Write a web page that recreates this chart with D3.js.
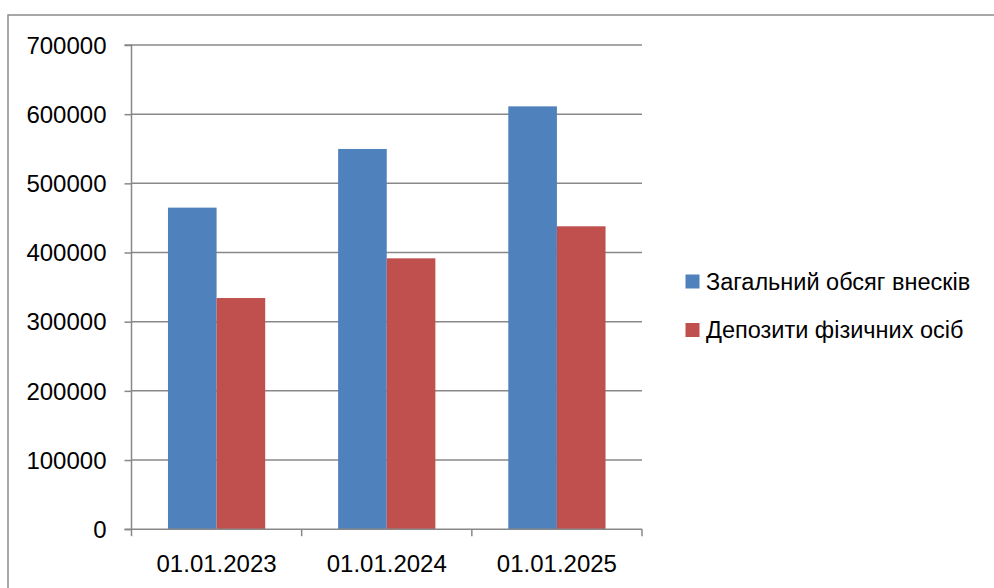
<!DOCTYPE html>
<html>
<head>
<meta charset="utf-8">
<script src="https://cdn.jsdelivr.net/npm/d3@7"></script>
<style>
  html, body { margin: 0; padding: 0; background: #fff; }
  svg { display: block; }
</style>
</head>
<body>
<svg id="chart" width="994" height="588"></svg>
<script>
const categories = ["01.01.2023", "01.01.2024", "01.01.2025"];
const seriesNames = ["Загальний обсяг внесків", "Депозити фізичних осіб"];
const totalContributions = [464900, 549700, 611300];
const individualDeposits = [334200, 391600, 437900];
const yTicks = [0, 100000, 200000, 300000, 400000, 500000, 600000, 700000];
const colors = ["#4F81BD", "#C0504D"];

(function () {
const seriesValues = [totalContributions, individualDeposits];
const svg = d3.select("#chart");
const font = "'Liberation Sans', Arial, sans-serif";

// outer frame
svg.append("rect").attr("x", 8).attr("y", 15).attr("width", 1000).attr("height", 600)
  .attr("fill", "none").attr("stroke", "#8a8a8a").attr("stroke-width", 1.5);

const pLeft = 131.5, pRight = 642, pTop = 45, pBottom = 529.2;

const x = d3.scaleBand().domain(categories).range([pLeft, pRight]).paddingInner(0).paddingOuter(0);
const barW = x.bandwidth() / 3.5; // gap width 150%
const y = d3.scaleLinear().domain([0, 700000]).range([pBottom, pTop]);

// gridlines
svg.append("g").selectAll("line").data(yTicks.filter(d => d > 0)).join("line")
  .attr("x1", pLeft).attr("x2", pRight)
  .attr("y1", d => y(d)).attr("y2", d => y(d))
  .attr("stroke", "#888").attr("stroke-width", 1.5);

// bars
seriesValues.forEach((vals, si) => {
  svg.append("g").selectAll("rect").data(vals).join("rect")
    .attr("x", (d, i) => x(categories[i]) + x.bandwidth() / 2 - barW + si * barW)
    .attr("y", d => y(d))
    .attr("width", barW)
    .attr("height", d => y(0) - y(d))
    .attr("fill", colors[si]);
});

// y axis
const yAxis = d3.axisLeft(y).tickValues(yTicks).tickFormat(d3.format("d")).tickSize(7).tickPadding(18);
const gy = svg.append("g").attr("transform", `translate(${pLeft},0)`).call(yAxis);
gy.select(".domain").attr("stroke", "#888").attr("stroke-width", 1.5).attr("d", `M-7,${pTop}H0V${pBottom}`);
gy.selectAll(".tick line").attr("stroke", "#888").attr("stroke-width", 1.5);
gy.selectAll(".tick text").attr("font-family", font).attr("font-size", 24).attr("fill", "#000").attr("dy", "0.34em");

// x axis
const xAxis = d3.axisBottom(x).tickSize(0).tickPadding(26);
const gx = svg.append("g").attr("transform", `translate(0,${pBottom})`).call(xAxis);
gx.select(".domain").attr("stroke", "#888").attr("stroke-width", 1.5).attr("d", `M${pLeft - 7},0H${pRight}`);
gx.selectAll(".tick text").attr("font-family", font).attr("font-size", 24).attr("fill", "#000");
const bounds = categories.map(c => x(c)).concat([pRight]);
gx.append("g").selectAll("line").data(bounds).join("line")
  .attr("x1", d => d).attr("x2", d => d).attr("y1", 0).attr("y2", 7)
  .attr("stroke", "#888").attr("stroke-width", 1.5);

// legend
const legend = svg.append("g");
seriesNames.forEach((name, i) => {
  const ly = 281.5 + i * 48.5;
  legend.append("rect").attr("x", 685.5).attr("y", ly - 7).attr("width", 14).attr("height", 14)
    .attr("fill", colors[i]);
  legend.append("text").attr("x", 706).attr("y", ly).attr("dy", "0.36em")
    .attr("font-family", font).attr("font-size", 23.5).attr("fill", "#000").text(name);
});
})();
</script>
</body>
</html>
